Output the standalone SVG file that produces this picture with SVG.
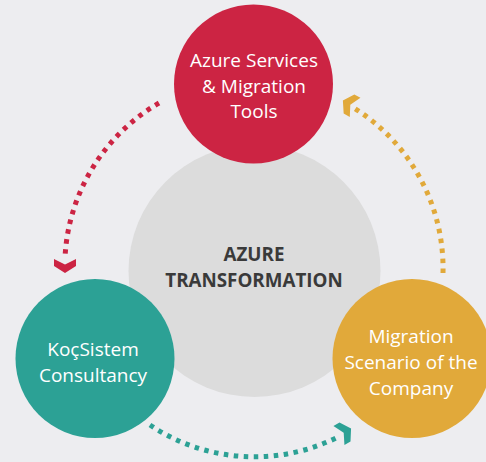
<svg xmlns="http://www.w3.org/2000/svg" width="486" height="462" viewBox="0 0 486 462">
<defs>
<style>
.lbl{font-family:"Open Sans","Noto Sans",sans-serif;font-size:19px;fill:#fff;text-anchor:middle}
.ctr{font-family:"Open Sans","Noto Sans",sans-serif;font-size:18.8px;font-weight:bold;fill:#3a3a3a;text-anchor:middle}
.arc{fill:none;stroke-width:5;stroke-dasharray:4.5 5.5}
</style>
<polygon id="chev" points="-7,-11 -1.5,0 -7,11 0,11 7,0 0,-11"/>
</defs>
<rect width="486" height="462" fill="#ededf0"/>
<g id="center">
<circle cx="254.5" cy="271" r="126" fill="#dcdcdc"/>
<text class="ctr" x="254" y="261">AZURE</text>
<text class="ctr" x="254" y="287">TRANSFORMATION</text>
</g>
<g id="connectors">
<path class="arc" stroke="#cc2443" d="M159,103 A189,189 0 0 0 65,258"/>
<use href="#chev" fill="#cc2443" transform="translate(65,266) rotate(90)"/>
<path class="arc" stroke="#e1a93a" d="M443,273 A189,189 0 0 0 354,108"/>
<use href="#chev" fill="#e1a93a" transform="translate(349,104) rotate(-151)"/>
<path class="arc" stroke="#2ca195" d="M150,425 A187,187 0 0 0 340,436"/>
<use href="#chev" fill="#2ca195" transform="translate(345,432) rotate(-30)"/>
</g>
<g id="azure-services">
<circle cx="253.5" cy="84" r="79.5" fill="#cc2443"/>
<text class="lbl" x="254" y="67">Azure Services</text>
<text class="lbl" x="254" y="93">&amp; Migration</text>
<text class="lbl" x="254" y="118">Tools</text>
</g>
<g id="kocsistem">
<circle cx="95" cy="358.5" r="79.5" fill="#2ca195"/>
<text class="lbl" x="93" y="356">KoçSistem</text>
<text class="lbl" x="93" y="382">Consultancy</text>
</g>
<g id="migration-scenario">
<circle cx="412" cy="358.5" r="79.5" fill="#e1a93a"/>
<text class="lbl" x="411" y="343">Migration</text>
<text class="lbl" x="411" y="369">Scenario of the</text>
<text class="lbl" x="411" y="395">Company</text>
</g>
</svg>
